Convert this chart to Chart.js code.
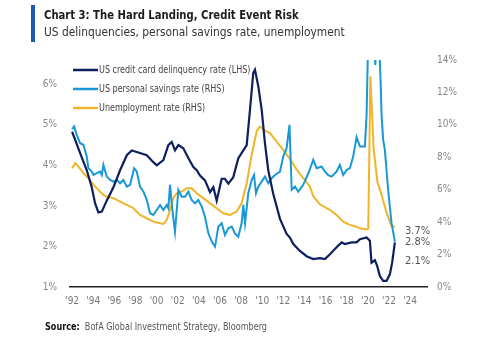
<!DOCTYPE html>
<html>
<head>
<meta charset="utf-8">
<script src="https://cdn.jsdelivr.net/npm/chart.js@4.4.0/dist/chart.umd.min.js"></script>
<style>
  body { margin: 0; background: #fff; }
  #wrap { position: relative; width: 500px; height: 339px; font-family: "Liberation Sans Narrow", "DejaVu Sans Condensed", sans-serif; }
  #bar { position: absolute; left: 31px; top: 5px; width: 4px; height: 37px; background: #1b5cb3; }
  #title, #sub, #src { position: absolute; white-space: nowrap; transform-origin: 0 50%; }
  #title { left: 44px; top: 7px; font-size: 13px; font-weight: bold; color: #1c1c1c; transform: scaleX(0.86); }
  #sub { left: 44px; top: 24px; font-size: 13px; color: #333; transform: scaleX(0.91); }
  #src { left: 45px; top: 321px; font-size: 10px; color: #555; transform: scaleX(0.9); }
  #src b { color: #111; }
  canvas { position: absolute; left: 0; top: 0; }
</style>
</head>
<body>
<div id="wrap">
  <canvas id="landingChart" width="500" height="339"></canvas>
  <div id="bar"></div>
  <div id="title">Chart 3: The Hard Landing, Credit Event Risk</div>
  <div id="sub">US delinquencies, personal savings rate, unemployment</div>
  <div id="src"><b>Source:</b>&nbsp; BofA Global Investment Strategy, Bloomberg</div>
</div>
<script>
// Credit card delinquency rate, % (left axis)
var navyYears = [1992.0, 1992.76, 1993.39, 1993.86, 1994.18, 1994.49, 1994.81, 1995.28, 1995.91, 1996.54,
  1997.18, 1997.65, 1998.12, 1999.07, 1999.69, 2000.01, 2000.64, 2001.11, 2001.43, 2001.74,
  2002.06, 2002.53, 2003.0, 2003.48, 2003.8, 2004.11, 2004.58, 2005.06, 2005.37, 2005.69,
  2006.16, 2006.47, 2006.79, 2007.26, 2007.73, 2008.21, 2008.53, 2008.84, 2009.15, 2009.31,
  2009.63, 2009.95, 2010.26, 2010.57, 2011.04, 2011.68, 2012.31, 2012.62, 2012.94, 2013.57,
  2014.2, 2014.83, 2015.46, 2015.94, 2016.41, 2017.04, 2017.52, 2017.83, 2018.46, 2018.93,
  2019.25, 2019.88, 2020.19, 2020.35, 2020.67, 2020.88, 2021.14, 2021.45, 2021.77, 2022.09,
  2022.3, 2022.56];
var navyRates = [4.83, 4.30, 3.88, 3.46, 3.06, 2.84, 2.86, 3.13, 3.46, 3.88,
  4.25, 4.37, 4.33, 4.25, 4.08, 4.00, 4.13, 4.50, 4.58, 4.37,
  4.50, 4.42, 4.18, 3.96, 3.88, 3.75, 3.63, 3.34, 3.46, 3.13,
  3.67, 3.67, 3.55, 3.71, 4.17, 4.37, 4.50, 5.37, 6.28, 6.36,
  5.95, 5.37, 4.54, 3.88, 3.30, 2.68, 2.31, 2.22, 2.06, 1.89,
  1.76, 1.69, 1.71, 1.69, 1.81, 1.98, 2.10, 2.06, 2.10, 2.10,
  2.18, 2.22, 2.14, 1.60, 1.66, 1.52, 1.27, 1.15, 1.15, 1.32,
  1.6, 2.1];

// Personal savings rate, % (right axis)
var savingsYears = [1992.0, 1992.19, 1992.44, 1992.76, 1993.07, 1993.39, 1993.54, 1993.86, 1994.02, 1994.34,
  1994.65, 1994.81, 1994.96, 1995.28, 1995.6, 1995.91, 1996.23, 1996.54, 1996.85, 1997.18,
  1997.49, 1997.87, 1998.12, 1998.43, 1998.75, 1999.07, 1999.38, 1999.69, 2000.01, 2000.33,
  2000.64, 2000.96, 2001.11, 2001.27, 2001.49, 2001.74, 2002.06, 2002.38, 2002.69, 2003.0,
  2003.32, 2003.64, 2003.95, 2004.27, 2004.58, 2004.9, 2005.22, 2005.53, 2005.84, 2006.16,
  2006.47, 2006.79, 2007.11, 2007.42, 2007.73, 2008.05, 2008.21, 2008.37, 2008.68, 2009.0,
  2009.22, 2009.41, 2009.63, 2009.95, 2010.26, 2010.57, 2010.89, 2011.2, 2011.68, 2011.99,
  2012.31, 2012.58, 2012.79, 2013.1, 2013.41, 2013.88, 2014.36, 2014.83, 2015.15, 2015.62,
  2015.94, 2016.25, 2016.57, 2017.04, 2017.35, 2017.67, 2017.99, 2018.3, 2018.61, 2018.93,
  2019.25, 2019.72, 2019.88, 2020.05, 2020.38, 2020.71, 2020.95, 2021.19, 2021.3, 2021.45,
  2021.61, 2021.92, 2022.24, 2022.56];
var savingsRates = [9.73, 9.9, 9.38, 8.87, 8.77, 8.04, 7.33, 7.12, 6.91, 7.02,
  7.12, 6.91, 7.53, 6.81, 6.6, 6.5, 6.6, 6.4, 6.6, 6.19,
  6.3, 7.33, 7.12, 6.19, 5.88, 5.37, 4.55, 4.44, 4.75, 5.06,
  4.75, 5.06, 4.86, 6.3, 4.75, 3.41, 5.99, 5.57, 5.57, 5.88,
  5.37, 5.16, 5.37, 4.96, 4.34, 3.31, 2.8, 2.49, 3.72, 3.93,
  3.21, 3.62, 3.72, 3.31, 3.1, 3.93, 5.06, 3.93, 5.78, 6.6,
  6.91, 5.78, 6.19, 6.5, 6.81, 6.4, 6.71, 6.91, 7.12, 8.04,
  8.56, 10.0, 6.0, 6.2, 5.88, 6.3, 7.0, 7.84, 7.33, 7.43,
  7.12, 6.9, 6.81, 7.12, 7.53, 6.91, 7.22, 7.33, 8.04, 9.24,
  8.66, 8.66, 10.6, 16, 18, 13.7, 17, 13.0, 10.6, 9.07,
  8.46, 6.0, 3.95, 2.8];

// Unemployment rate, % (right axis)
var joblessYears = [1992.0, 1992.29, 1992.6, 1993.07, 1993.54, 1994.02, 1994.49, 1994.96, 1995.28, 1995.91,
  1996.54, 1997.18, 1997.81, 1998.43, 1999.07, 1999.69, 2000.33, 2000.64, 2000.96, 2001.27,
  2001.58, 2001.9, 2002.38, 2002.85, 2003.32, 2003.8, 2004.42, 2005.06, 2005.69, 2006.32,
  2006.95, 2007.58, 2008.05, 2008.53, 2009.0, 2009.47, 2009.79, 2010.26, 2010.73, 2011.36,
  2011.99, 2012.62, 2013.25, 2013.88, 2014.51, 2014.83, 2015.46, 2016.41, 2017.04, 2017.67,
  2018.3, 2018.93, 2019.25, 2019.88, 2020.04, 2020.24, 2020.55, 2020.9, 2021.29, 2021.76,
  2022.24, 2022.56];
var joblessRates = [7.33, 7.64, 7.43, 7.02, 6.71, 6.3, 5.99, 5.68, 5.57, 5.48,
  5.27, 5.06, 4.86, 4.44, 4.24, 4.03, 3.93, 3.89, 4.14, 4.75,
  5.48, 5.78, 5.88, 6.09, 6.09, 5.78, 5.48, 5.16, 4.86, 4.55,
  4.44, 4.65, 5.16, 6.4, 8.15, 9.59, 9.9, 9.64, 9.49, 8.97,
  8.46, 7.9, 7.25, 6.71, 6.2, 5.6, 5.1, 4.75, 4.44, 4.03,
  3.83, 3.72, 3.62, 3.55, 3.6, 13.0, 8.5, 6.5, 5.7, 4.6,
  3.75, 3.7];

var tickYears = [1992, 1994, 1996, 1998, 2000, 2002, 2004, 2006, 2008, 2010, 2012, 2014, 2016, 2018, 2020, 2022, 2024];

// vertical nudges for the end-of-line value labels (navy, blue, gold)
var endNudge = [19, 1, 4];

function pairs(xs, ys) {
  return xs.map(function (x, i) { return { x: x, y: ys[i] }; });
}

var labelFont = '"Liberation Sans Narrow", "DejaVu Sans Condensed", sans-serif';

// legend inside the plot plus the last-value tags at the right end
var legendAndEnds = {
  id: 'legendAndEnds',
  afterDatasetsDraw: function (chart) {
    var ctx = chart.ctx;
    var area = chart.chartArea;
    ctx.save();
    ctx.textBaseline = 'middle';
    chart.data.datasets.forEach(function (ds, i) {
      var y = area.top + 10 + i * 19;
      var x = area.left + 3;
      ctx.strokeStyle = ds.borderColor;
      ctx.lineWidth = 2.5;
      ctx.beginPath();
      ctx.moveTo(x, y);
      ctx.lineTo(x + 25, y);
      ctx.stroke();

      // squeeze the legend text a little, it is set in a narrow face
      ctx.save();
      ctx.translate(x + 26, y);
      ctx.scale(0.85, 1);
      ctx.font = '10.5px ' + labelFont;
      ctx.fillStyle = '#444';
      ctx.fillText(ds.label, 0, 0);
      ctx.restore();

      var pts = chart.getDatasetMeta(i).data;
      var last = pts[pts.length - 1];
      var val = ds.data[ds.data.length - 1].y;
      ctx.font = '11px ' + labelFont;
      ctx.fillStyle = '#555';
      ctx.fillText(val.toFixed(1) + '%', area.right - 22, last.y + endNudge[i]);
    });
    ctx.restore();
  }
};

var ctx = document.getElementById('landingChart').getContext('2d');
var landingChart = new Chart(ctx, {
  type: 'line',
  data: {
    datasets: [{
      label: 'US credit card delinquency rate (LHS)',
      data: pairs(navyYears, navyRates),
      yAxisID: 'yL',
      borderColor: '#0c1f5e',
      borderWidth: 2.2
    }, {
      label: 'US personal savings rate (RHS)',
      data: pairs(savingsYears, savingsRates),
      yAxisID: 'yR',
      borderColor: '#1a98d5',
      borderWidth: 2
    }, {
      label: 'Unemployment rate (RHS)',
      data: pairs(joblessYears, joblessRates),
      yAxisID: 'yR',
      borderColor: '#f0b428',
      borderWidth: 2
    }]
  },
  options: {
    responsive: false,
    animation: false,
    layout: { padding: { top: 60, left: 0, right: 0, bottom: 0 } },
    elements: { point: { radius: 0 }, line: { tension: 0 } },
    plugins: { legend: { display: false }, tooltip: { enabled: false } },
    scales: {
      x: {
        type: 'linear',
        min: 1991.8,
        max: 2025.6,
        afterBuildTicks: function (axis) {
          axis.ticks = tickYears.map(function (v) { return { value: v }; });
        },
        afterFit: function (scale) { scale.height = 52; },
        grid: { display: false, drawTicks: false },
        border: { display: true, color: '#222', width: 1.5 },
        ticks: {
          padding: 8,
          maxRotation: 0,
          autoSkip: false,
          color: '#777',
          font: { family: labelFont, size: 10 },
          callback: function (v) { return "'" + String(v).slice(2); }
        }
      },
      yL: {
        position: 'left',
        min: 1,
        max: 6.6,
        afterFit: function (scale) { scale.width = 70; },
        grid: { display: false, drawTicks: false },
        border: { display: false },
        ticks: {
          stepSize: 1,
          includeBounds: false,
          padding: 13,
          color: '#888',
          font: { family: labelFont, size: 10 },
          callback: function (v) { return v + '%'; }
        }
      },
      yR: {
        position: 'right',
        min: 0,
        max: 14,
        afterFit: function (scale) { scale.width = 73; },
        grid: { display: false, drawTicks: false },
        border: { display: false },
        ticks: {
          stepSize: 2,
          padding: 10,
          color: '#888',
          font: { family: labelFont, size: 10 },
          callback: function (v) { return v + '%'; }
        }
      }
    }
  },
  plugins: [legendAndEnds]
});
</script>
</body>
</html>
